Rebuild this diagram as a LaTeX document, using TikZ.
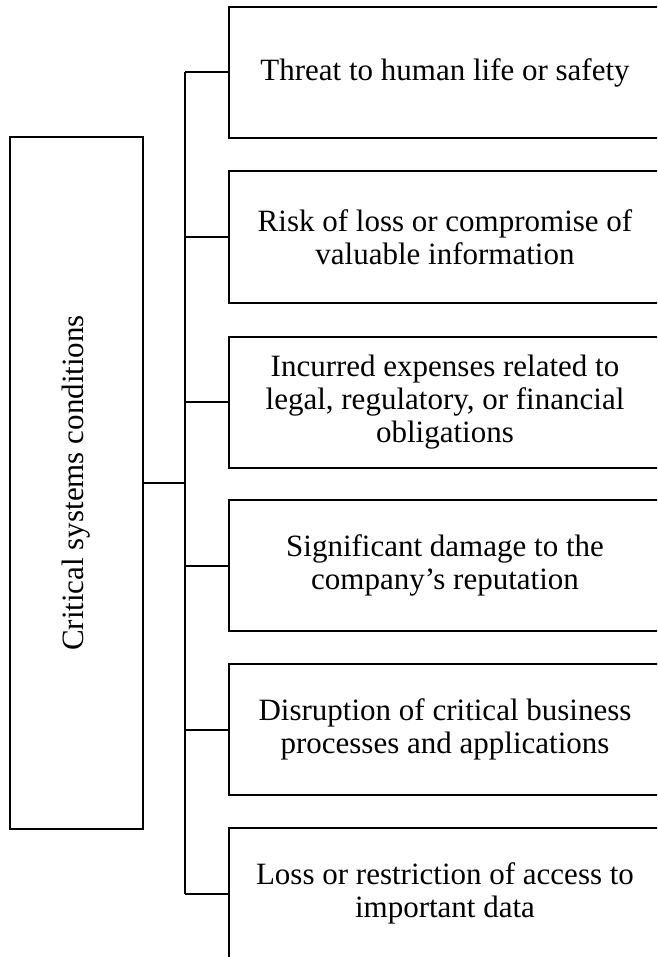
\documentclass[tikz,border=0pt]{standalone}
\usepackage{fontspec}
\setmainfont{Liberation Serif}
\begin{document}
\begin{tikzpicture}[x=1pt,y=-1pt,
  box/.style={draw=black,line width=2pt,rectangle,inner sep=0pt,align=center,
    font=\fontsize{31}{33}\selectfont},
  rbox/.style={box,minimum width=432pt,minimum height=131pt},
  conn/.style={draw=black,line width=2pt}]
\useasboundingbox (0,0) rectangle (657,957);
\clip (0,0) rectangle (657,957);
\fill[white] (0,0) rectangle (657,957);
\node[box,minimum width=133pt,minimum height=692pt] (L) at (76.5,483) {};
\node[font=\fontsize{31}{33}\selectfont,rotate=90] (Lt) at (L.center) {Critical systems conditions};
\node[rbox] (R1) at (445,72.5) {Threat to human life or safety};
\node[rbox] (R2) at (445,237) {Risk of loss or compromise of\\valuable information};
\node[rbox] (R3) at (445,402) {Incurred expenses related to\\legal, regulatory, or financial\\obligations};
\node[rbox] (R4) at (445,565.5) {Significant damage to the\\company’s reputation};
\node[rbox] (R5) at (445,729.5) {Disruption of critical business\\processes and applications};
\node[rbox] (R6) at (445,893.5) {Loss or restriction of access to\\important data};
\coordinate (J) at (185,483);
\coordinate (B1) at (R1.west -| J);
\coordinate (B2) at (R2.west -| J);
\coordinate (B3) at (R3.west -| J);
\coordinate (B4) at (R4.west -| J);
\coordinate (B5) at (R5.west -| J);
\coordinate (B6) at (R6.west -| J);
\draw[conn] (L.east |- J) -- (J);
\draw[conn] (B1) -- (B6);
\draw[conn] (B1) -- (R1.west);
\draw[conn] (B2) -- (R2.west);
\draw[conn] (B3) -- (R3.west);
\draw[conn] (B4) -- (R4.west);
\draw[conn] (B5) -- (R5.west);
\draw[conn] (B6) -- (R6.west);
\end{tikzpicture}
\end{document}
